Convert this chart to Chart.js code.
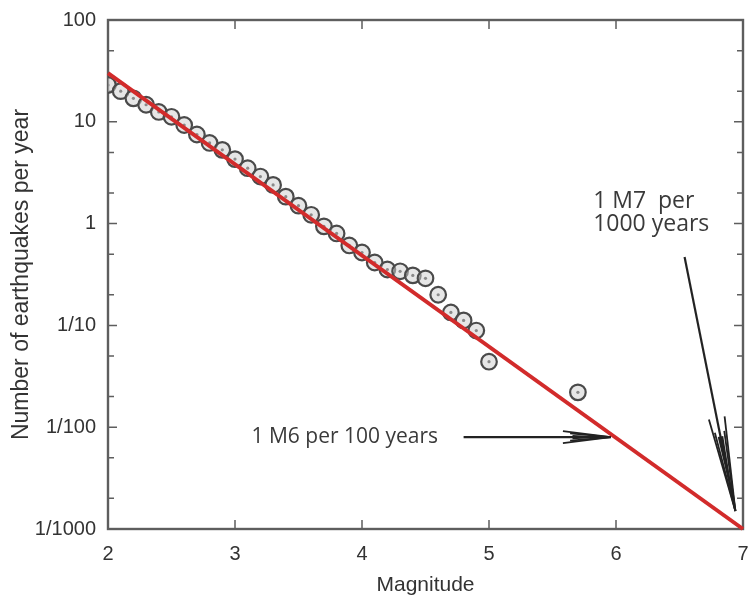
<!DOCTYPE html>
<html>
<head>
<meta charset="utf-8">
<script src="https://cdn.jsdelivr.net/npm/chart.js@4"></script>
<style>
  body { margin: 0; background: #fff; }
</style>
</head>
<body>
<canvas id="quakeCanvas" width="753" height="598"></canvas>
<script>
// observed yearly rates per magnitude bin
var magnitudes = [2.0, 2.1, 2.2, 2.3, 2.4, 2.5, 2.6, 2.7, 2.8, 2.9, 3.0, 3.1, 3.2, 3.3, 3.4, 3.5,
                  3.6, 3.7, 3.8, 3.9, 4.0, 4.1, 4.2, 4.3, 4.4, 4.5, 4.6, 4.7, 4.8, 4.9, 5.0, 5.7];
var ratesPerYear = [23, 20, 17, 14.7, 12.5, 11.2, 9.3, 7.5, 6.2, 5.3, 4.3, 3.5, 2.9, 2.4, 1.84, 1.5,
                    1.22, 0.94, 0.8, 0.61, 0.52, 0.415, 0.354, 0.34, 0.31, 0.29, 0.2, 0.134, 0.112, 0.089, 0.044, 0.022];

// red fit line (end points)
var fitMagnitudes = [2, 7];
var fitRates = [30, 0.001];

var xTickValues = [2, 3, 4, 5, 6, 7];
var yTickValues = [100, 10, 1, 0.1, 0.01, 0.001];
var yTickLabels = ["100", "10", "1", "1/10", "1/100", "1/1000"];
var yMinorSteps = [2, 5];

// annotation anchors, in data units
var m6Label = "1 M6 per 100 years";
var m6Arrow = { x1: 4.80, y1: 0.008, x2: 5.96, y2: 0.008, textX: 3.13 };
var m7Label = ["1 M7  per", "1000 years"];
var m7Arrow = { x1: 6.54, y1: 0.47, x2: 6.94, y2: 0.0015, textX: 5.82, textY: [1.64, 0.97] };

var points = magnitudes.map(function (m, i) { return { x: m, y: ratesPerYear[i] }; });
var fitPoints = fitMagnitudes.map(function (m, i) { return { x: m, y: fitRates[i] }; });

function drawArrow(ctx, x1, y1, x2, y2, headLen, headW) {
  var ang = Math.atan2(y2 - y1, x2 - x1);
  var c = Math.cos(ang), s = Math.sin(ang);
  ctx.strokeStyle = "#222";
  ctx.fillStyle = "#222";
  ctx.lineWidth = 2.2;
  ctx.beginPath();
  ctx.moveTo(x1, y1);
  ctx.lineTo(x2, y2);
  ctx.stroke();
  // slim dark wedge in the middle of the head
  var back = headLen * 0.8;
  ctx.beginPath();
  ctx.moveTo(x2, y2);
  ctx.lineTo(x2 - c * back - s * headW * 0.35, y2 - s * back + c * headW * 0.35);
  ctx.lineTo(x2 - c * back + s * headW * 0.35, y2 - s * back - c * headW * 0.35);
  ctx.closePath();
  ctx.fill();
  // outer barbs
  ctx.lineWidth = 1.8;
  [1, 0.6, -0.6, -1].forEach(function (f) {
    var b = headLen * (Math.abs(f) === 1 ? 1 : 0.85);
    ctx.beginPath();
    ctx.moveTo(x2 - c * b - s * headW * f, y2 - s * b + c * headW * f);
    ctx.lineTo(x2, y2);
    ctx.stroke();
  });
}

var framePlugin = {
  id: "frame",
  beforeDatasetsDraw: function (chart) {
    var ctx = chart.ctx, a = chart.chartArea, xs = chart.scales.x, ys = chart.scales.y;
    ctx.save();
    ctx.strokeStyle = "#5e5e5e";
    ctx.lineWidth = 2.4;
    ctx.strokeRect(a.left, a.top, a.right - a.left, a.bottom - a.top);
    ctx.lineWidth = 1.5;
    ctx.beginPath();
    xTickValues.forEach(function (v) {
      var px = xs.getPixelForValue(v);
      ctx.moveTo(px, a.bottom); ctx.lineTo(px, a.bottom - 9);
      ctx.moveTo(px, a.top); ctx.lineTo(px, a.top + 9);
    });
    yTickValues.forEach(function (v) {
      var py = ys.getPixelForValue(v);
      ctx.moveTo(a.left, py); ctx.lineTo(a.left + 9, py);
      ctx.moveTo(a.right, py); ctx.lineTo(a.right - 9, py);
      if (v < 100) {
        yMinorSteps.forEach(function (k) {
          var pm = ys.getPixelForValue(v * k);
          ctx.moveTo(a.left, pm); ctx.lineTo(a.left + 6, pm);
          ctx.moveTo(a.right, pm); ctx.lineTo(a.right - 6, pm);
        });
      }
    });
    ctx.stroke();
    ctx.restore();
  },
  afterDatasetsDraw: function (chart) {
    var ctx = chart.ctx, xs = chart.scales.x, ys = chart.scales.y;
    ctx.save();
    ctx.fillStyle = "#3a3a3a";
    ctx.textBaseline = "middle";
    ctx.textAlign = "left";
    ctx.font = "21px 'Open Sans'";
    ctx.fillText(m6Label, xs.getPixelForValue(m6Arrow.textX), ys.getPixelForValue(m6Arrow.y1));
    ctx.font = "23px 'Open Sans'";
    m7Label.forEach(function (t, i) {
      ctx.fillText(t, xs.getPixelForValue(m7Arrow.textX), ys.getPixelForValue(m7Arrow.textY[i]));
    });
    drawArrow(ctx, xs.getPixelForValue(m6Arrow.x1), ys.getPixelForValue(m6Arrow.y1),
              xs.getPixelForValue(m6Arrow.x2), ys.getPixelForValue(m6Arrow.y2), 48, 6);
    drawArrow(ctx, xs.getPixelForValue(m7Arrow.x1), ys.getPixelForValue(m7Arrow.y1),
              xs.getPixelForValue(m7Arrow.x2), ys.getPixelForValue(m7Arrow.y2), 95, 8);
    ctx.restore();
  }
};

var ctx = document.getElementById("quakeCanvas");
var quakeChart = new Chart(ctx, {
  type: "scatter",
  data: {
    datasets: [{
      type: "line",
      data: fitPoints,
      borderColor: "#d22b2b",
      borderWidth: 4,
      pointRadius: 0,
      fill: false,
      clip: false
    }, {
      data: points,
      pointRadius: 1.6,
      backgroundColor: "#8a8a8a",
      borderWidth: 0
    }, {
      data: points,
      pointRadius: 7.8,
      borderWidth: 2.2,
      borderColor: "#4a4a4a",
      backgroundColor: "rgba(205,205,205,0.5)"
    }]
  },
  options: {
    responsive: false,
    animation: false,
    layout: { padding: { top: 20, right: 3 } },
    plugins: { legend: { display: false }, tooltip: { enabled: false } },
    scales: {
      x: {
        type: "linear",
        min: 2,
        max: 7,
        afterBuildTicks: function (scale) {
          scale.ticks = xTickValues.map(function (v) { return { value: v }; });
        },
        afterFit: function (scale) {
          scale.height = 69;
          scale.paddingLeft = 0;
          scale.paddingRight = 0;
        },
        grid: { drawOnChartArea: false, drawTicks: false },
        border: { display: false },
        ticks: {
          padding: 13,
          maxRotation: 0,
          autoSkip: false,
          color: "#333",
          font: { family: "'Liberation Sans', Arial", size: 20 }
        },
        title: {
          display: true,
          text: "Magnitude",
          color: "#333",
          padding: { top: 0, bottom: 0 },
          font: { family: "'Liberation Sans', Arial", size: 21 }
        }
      },
      y: {
        type: "logarithmic",
        min: 0.001,
        max: 100,
        afterBuildTicks: function (scale) {
          scale.ticks = yTickValues.map(function (v) { return { value: v }; });
        },
        afterFit: function (scale) {
          scale.width = 108;
          scale.paddingTop = 0;
          scale.paddingBottom = 0;
        },
        grid: { drawOnChartArea: false, drawTicks: false },
        border: { display: false },
        ticks: {
          padding: 12,
          autoSkip: false,
          color: "#333",
          font: { family: "'Liberation Sans', Arial", size: 20 },
          callback: function (value) {
            var i = yTickValues.indexOf(value);
            return i >= 0 ? yTickLabels[i] : "";
          }
        },
        title: {
          display: true,
          text: "Number of earthquakes per year",
          color: "#333",
          padding: { top: 8, bottom: 0 },
          font: { family: "'Liberation Sans', Arial", size: 23 }
        }
      }
    }
  },
  plugins: [framePlugin]
});
</script>
</body>
</html>
